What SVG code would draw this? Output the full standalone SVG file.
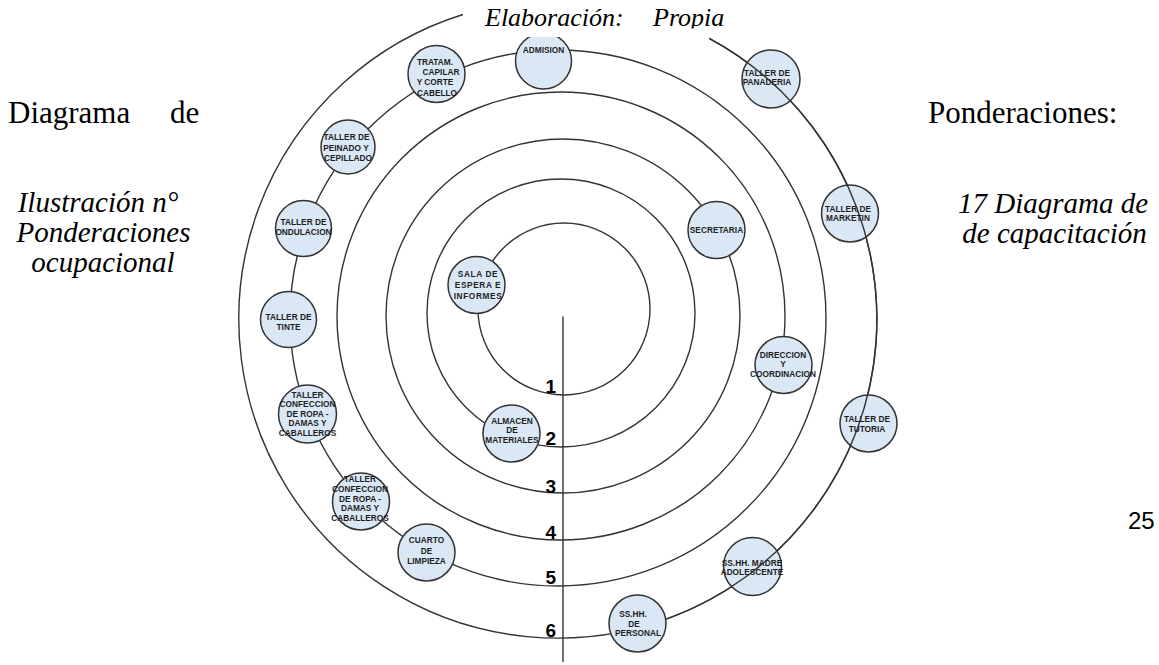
<svg xmlns="http://www.w3.org/2000/svg" width="1159" height="665" viewBox="0 0 1159 665">
<style>
.ring{fill:none;stroke:#333;stroke-width:1.4}
.node circle{fill:#dae7f5;stroke:#333;stroke-width:1.5}
.nt{font-family:"Liberation Sans",Arial,sans-serif;font-weight:bold;font-size:8.3px;fill:#1e1e1e;text-anchor:middle}
.num{font-family:"Liberation Sans",Arial,sans-serif;font-weight:bold;font-size:19px;fill:#000;text-anchor:end}
.serif{font-family:"Liberation Serif","Times New Roman",serif;fill:#000}
.big{font-size:31px}
.cap{font-size:29px;font-style:italic}
</style>
<defs>
<clipPath id="titleclip"><rect x="463" y="0" width="275" height="28.5"/></clipPath>
</defs>
<rect width="1159" height="665" fill="#fff"/>

<g id="page-text" class="serif">
<text class="big" x="8" y="123">Diagrama</text>
<text class="big" x="170" y="123">de</text>
<text class="big" x="928" y="123">Ponderaciones:</text>
<text class="cap" x="98" y="212" text-anchor="middle">Ilustración n°</text>
<text class="cap" x="103.5" y="242" text-anchor="middle">Ponderaciones</text>
<text class="cap" x="103" y="272" text-anchor="middle">ocupacional</text>
<text class="cap" x="1053" y="213" text-anchor="middle">17 Diagrama de</text>
<text class="cap" x="1054.5" y="243" text-anchor="middle">de capacitación</text>
<text x="1128" y="529" font-family="Liberation Sans, Arial, sans-serif" font-size="24" fill="#000">25</text>
</g>

<g id="connectors">
<circle class="ring" cx="564" cy="309" r="86"/>
<circle class="ring" cx="561" cy="313" r="134"/>
<circle class="ring" cx="563" cy="316" r="177"/>
<circle class="ring" cx="561" cy="316" r="224"/>
<circle class="ring" cx="558" cy="318" r="268"/>
<path class="ring" d="M463 14.5 A319 319 0 1 0 709.2 38.3"/>
<line class="ring" x1="563" y1="316.5" x2="563" y2="662"/>
</g>

<g id="ring-labels">
<text class="num" x="556" y="393">1</text>
<text class="num" x="556" y="445">2</text>
<text class="num" x="556" y="492.5">3</text>
<text class="num" x="556" y="539">4</text>
<text class="num" x="556" y="584">5</text>
<text class="num" x="556" y="636.5">6</text>
</g>

<g id="n-admision" class="node"><circle cx="543.5" cy="61" r="28"/><text class="nt" x="543.5" y="53">ADMISION</text></g>
<g id="n-tratam" class="node"><circle cx="436.5" cy="74" r="28.5"/>
<text class="nt" x="435" y="65">TRATAM.</text><text class="nt" x="441" y="75">CAPILAR</text><text class="nt" x="435" y="85">Y CORTE</text><text class="nt" x="437" y="96">CABELLO</text></g>
<g id="n-peinado" class="node"><circle cx="348" cy="147" r="27"/>
<text class="nt" x="346.5" y="140">TALLER DE</text><text class="nt" x="346" y="151">PEINADO Y</text><text class="nt" x="348" y="161">CEPILLADO</text></g>
<g id="n-ondulacion" class="node"><circle cx="303.5" cy="228.5" r="28"/>
<text class="nt" x="303.5" y="225">TALLER DE</text><text class="nt" x="303.5" y="235">ONDULACION</text></g>
<g id="n-tinte" class="node"><circle cx="288.5" cy="319.5" r="28"/>
<text class="nt" x="288.5" y="320">TALLER DE</text><text class="nt" x="288.5" y="330">TINTE</text></g>
<g id="n-confeccion1" class="node"><circle cx="307.5" cy="414" r="29"/>
<text class="nt" x="307.5" y="398">TALLER</text><text class="nt" x="307.5" y="407">CONFECCION</text><text class="nt" x="307.5" y="417">DE ROPA -</text><text class="nt" x="307.5" y="426">DAMAS Y</text><text class="nt" x="307.5" y="436">CABALLEROS</text></g>
<g id="n-confeccion2" class="node"><circle cx="361" cy="501.5" r="28.5"/>
<text class="nt" x="360" y="482">TALLER</text><text class="nt" x="360" y="492">CONFECCION</text><text class="nt" x="360" y="502">DE ROPA -</text><text class="nt" x="360" y="511">DAMAS Y</text><text class="nt" x="360" y="521">CABALLEROS</text></g>
<g id="n-cuarto" class="node"><circle cx="426.5" cy="552.5" r="28.5"/>
<text class="nt" x="426.5" y="543">CUARTO</text><text class="nt" x="426.5" y="554">DE</text><text class="nt" x="426.5" y="564">LIMPIEZA</text></g>
<g id="n-sala" class="node"><circle cx="476.5" cy="285" r="28.5"/>
<text class="nt" x="478" y="277" letter-spacing="0.6">SALA DE</text><text class="nt" x="478" y="287.5" letter-spacing="0.6">ESPERA E</text><text class="nt" x="478" y="299" letter-spacing="0.6">INFORMES</text></g>
<g id="n-almacen" class="node"><circle cx="511.5" cy="433.5" r="28.5"/>
<text class="nt" x="512" y="424">ALMACEN</text><text class="nt" x="512" y="433">DE</text><text class="nt" x="512" y="443">MATERIALES</text></g>
<g id="n-secretaria" class="node"><circle cx="716.5" cy="230" r="28.5"/>
<text class="nt" x="716.5" y="233">SECRETARIA</text></g>
<g id="n-marketin" class="node"><circle cx="850" cy="213.5" r="28.5"/>
<text class="nt" x="848" y="212">TALLER DE</text><text class="nt" x="848" y="221">MARKETIN</text></g>
<g id="n-direccion" class="node"><circle cx="783.5" cy="365" r="28.5"/>
<text class="nt" x="783" y="358">DIRECCION</text><text class="nt" x="783" y="367">Y</text><text class="nt" x="783" y="377">COORDINACION</text></g>
<g id="n-tutoria" class="node"><circle cx="868.5" cy="423.5" r="28.5"/>
<text class="nt" x="867" y="422">TALLER DE</text><text class="nt" x="867" y="432">TUTORIA</text></g>
<g id="n-sshh-personal" class="node"><circle cx="637.5" cy="623.5" r="28.5"/>
<text class="nt" x="633" y="617">SS.HH.</text><text class="nt" x="634" y="627">DE</text><text class="nt" x="638" y="636">PERSONAL</text></g>
<g id="n-sshh-madre" class="node"><circle cx="752.5" cy="566.5" r="29"/>
<text class="nt" x="752" y="566">SS.HH. MADRE</text><text class="nt" x="752" y="575">ADOLESCENTE</text></g>
<g id="n-panaderia" class="node"><circle cx="771" cy="79" r="29"/>
<text class="nt" x="767" y="76">TALLER DE</text><text class="nt" x="767" y="85">PANADERIA</text></g>

<g id="connectors-over">
<path class="ring" d="M667.1 618.8 A319 319 0 0 0 709.2 38.3"/>
</g>

<g id="title">
<rect x="463" y="0" width="246" height="37" fill="#fff"/>
<g clip-path="url(#titleclip)" class="serif">
<text x="485" y="26" font-size="26" font-style="italic">Elaboración:</text>
<text x="653" y="26" font-size="26" font-style="italic">Propia</text>
</g>
</g>
</svg>
